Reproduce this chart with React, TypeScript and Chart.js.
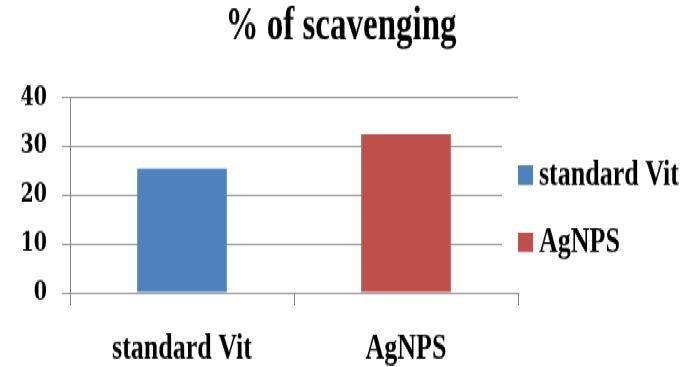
import { useEffect, useRef } from 'react';
import { Chart, registerables, layouts } from 'chart.js';

Chart.register(...registerables);

const categories = ['standard Vit', 'AgNPS'];
const scavengingPercent = [25.4, 32.4];
const barColors = ['#4F81BD', '#C0504D'];
const yTickValues = [0, 10, 20, 30, 40];
const chartTitle = '% of scavenging';

// The canvas is drawn shorter and stretched vertically, giving tall, narrow lettering.
const PAGE_W = 682;
const PAGE_H = 367;
const STRETCH = 1.4;
const CANVAS_H = Math.round(PAGE_H / STRETCH);

const SERIF = "'Liberation Serif', 'Times New Roman', serif";
const serifBold = (size: number) => ({ family: SERIF, size, weight: 'bold' as const });
const axisGray = '#858585';
const LEGEND_WIDTH = 164;

// Legend as a layout box on the right: a white panel, then a colour square and
// the series name for each dataset.
const sideLegend = {
  id: 'sideLegend',
  beforeInit(chart: any) {
    const box: any = {
      position: 'right',
      weight: 10,
      fullSize: false,
      options: {},
      left: 0,
      right: 0,
      top: 0,
      bottom: 0,
      width: LEGEND_WIDTH,
      height: 0,
      isHorizontal: () => false,
      update(_maxWidth: number, maxHeight: number) {
        box.width = LEGEND_WIDTH;
        box.height = maxHeight;
      },
      _layers: () => [{ z: 1, draw: () => box.draw() }],
      draw() {
        const { ctx } = chart;
        const left = box.left;
        const firstBaseline = 132;
        const rowGap = 48;
        const boxW = 15;
        const boxH = 14;
        ctx.save();
        ctx.fillStyle = '#fff';
        ctx.fillRect(left - 16, 86, PAGE_W - left + 16, 107);
        ctx.font = `bold 26px ${SERIF}`;
        ctx.textBaseline = 'alphabetic';
        ctx.textAlign = 'left';
        chart.data.datasets.forEach((ds: any, i: number) => {
          const base = firstBaseline + i * rowGap;
          ctx.fillStyle = ds.backgroundColor;
          ctx.fillRect(left, base - boxH, boxW, boxH);
          ctx.fillStyle = '#000';
          ctx.fillText(ds.label, left + 21, base);
        });
        ctx.restore();
      },
    };
    layouts.addBox(chart, box);
  },
};

export default function App() {
  const ref = useRef<HTMLCanvasElement>(null);

  useEffect(() => {
    if (!ref.current) return;
    const datasets = categories.map((name, i) => ({
      label: name,
      data: categories.map((_, j) => (j === i ? scavengingPercent[i] : null)),
      backgroundColor: barColors[i],
      borderWidth: 0,
      categoryPercentage: 0.8,
      barPercentage: 0.5,
      grouped: false,
    }));

    const chart = new Chart(ref.current, {
      type: 'bar',
      data: { labels: categories, datasets },
      plugins: [sideLegend],
      options: {
        animation: false,
        responsive: false,
        devicePixelRatio: 1,
        layout: { padding: 0 },
        plugins: {
          title: {
            display: true,
            text: chartTitle,
            color: '#000',
            font: serifBold(33),
            padding: { top: 0, bottom: 30 },
          },
          legend: { display: false },
          tooltip: { enabled: false },
        },
        scales: {
          x: {
            afterFit: (scale: any) => {
              scale.height = 53;
            },
            grid: { display: true, drawOnChartArea: false, offset: true, tickLength: 9, color: axisGray },
            border: { color: axisGray, width: 1 },
            ticks: { color: '#000', font: serifBold(26), padding: 16 },
          },
          y: {
            min: 0,
            max: 40,
            afterBuildTicks: (scale: any) => {
              scale.ticks = yTickValues.map((v) => ({ value: v }));
            },
            afterFit: (scale: any) => {
              scale.width = 70;
            },
            grid: { color: axisGray, tickLength: 8 },
            border: { color: axisGray, width: 1 },
            ticks: {
              color: '#000',
              font: { family: "'DejaVu Serif', serif", size: 19, weight: 'bold' },
              padding: 15,
            },
          },
        },
      },
    });
    return () => chart.destroy();
  }, []);

  return (
    <div
      style={{
        position: 'absolute',
        left: 0,
        top: 0,
        width: PAGE_W,
        height: CANVAS_H,
        background: '#fff',
        transform: `scaleY(${PAGE_H / CANVAS_H})`,
        transformOrigin: '0 0',
      }}
    >
      <canvas ref={ref} width={PAGE_W} height={CANVAS_H} style={{ display: 'block' }} />
    </div>
  );
}
